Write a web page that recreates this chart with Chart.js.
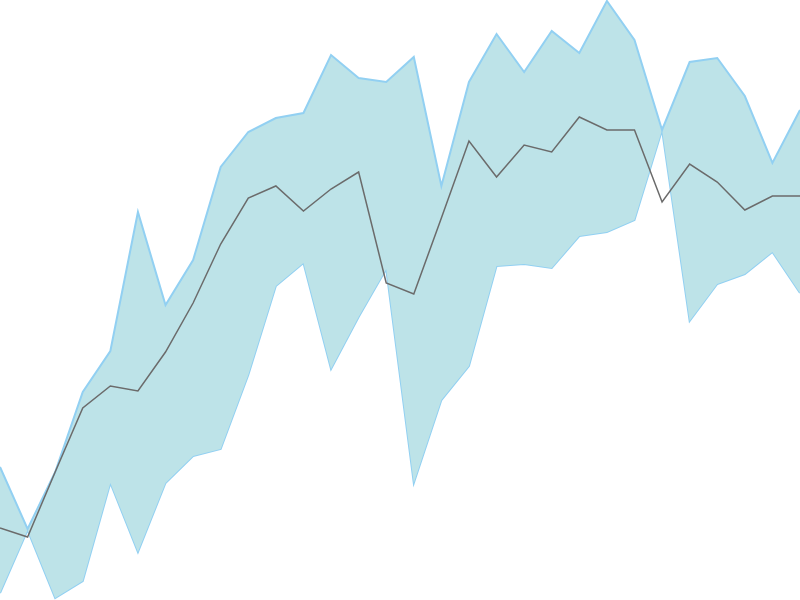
<!DOCTYPE html>
<html>
<head>
<meta charset="utf-8">
<script src="https://cdn.jsdelivr.net/npm/chart.js@4.4.1/dist/chart.umd.min.js"></script>
<style>
html,body{margin:0;padding:0;background:#fff;}
#wrap{width:800px;height:600px;}
</style>
</head>
<body>
<div id="wrap"><canvas id="c" width="800" height="600"></canvas></div>
<script>
const categories = Array.from({length:30}, (_, i) => String(i + 1));
const upperValues = [133, 71, 128, 208, 249, 388, 295, 340, 433, 468, 482, 487, 545, 522, 518, 543, 414, 518, 566, 528, 569, 547, 599, 560, 470, 538, 542, 504, 437, 490];
const meanValues  = [72, 63, 128, 192, 214, 209, 248, 297, 356, 402, 414, 389, 411, 428, 317, 306, 382, 459, 423, 455, 448, 483, 470, 470, 398, 436, 418, 390, 404, 404];
const lowerValues = [7, 70, 2, 19, 117, 48, 117, 144, 151, 225, 314, 337, 231, 283, 331, 117, 200, 234, 334, 336, 332, 364, 368, 380, 470, 279, 316, 326, 348, 307];

new Chart(document.getElementById('c'), {
  type: 'line',
  data: {
    labels: categories,
    datasets: [
      {
        label: 'mean',
        data: meanValues,
        borderColor: '#6b6b6b',
        borderWidth: 1.5,
        pointRadius: 0,
        fill: false,
        tension: 0
      },
      {
        label: 'upper',
        data: upperValues,
        borderColor: '#92d0f2',
        backgroundColor: '#bde3e8',
        borderWidth: 2,
        pointRadius: 0,
        fill: '+1',
        tension: 0
      },
      {
        label: 'lower',
        data: lowerValues,
        borderColor: '#92d0f2',
        borderWidth: 2,
        pointRadius: 0,
        fill: false,
        tension: 0
      }
    ]
  },
  options: {
    responsive: false,
    animation: false,
    layout: { padding: 0 },
    plugins: { legend: { display: false }, tooltip: { enabled: false } },
    scales: {
      x: { display: false, offset: false },
      y: { display: false, min: 0, max: 600 }
    }
  }
});
</script>
</body>
</html>
